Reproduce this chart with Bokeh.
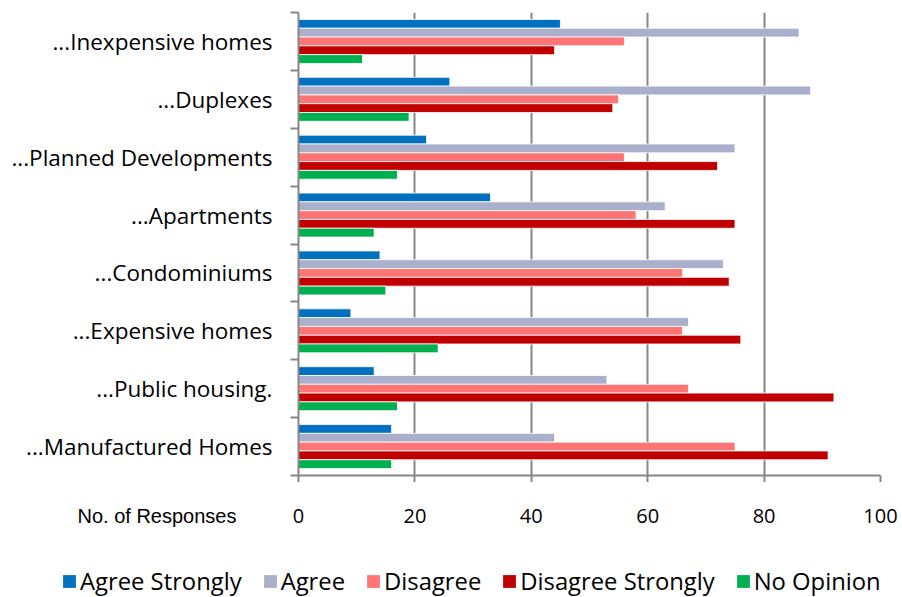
from bokeh.plotting import figure
from bokeh.models import Range1d, FixedTicker, ColumnDataSource, Legend, LegendItem, Label
from bokeh.transform import dodge
from bokeh.layouts import column
from bokeh.core.properties import value
from bokeh.embed import file_html
from bokeh.resources import INLINE

categories = ["...Inexpensive homes", "...Duplexes", "...Planned Developments",
              "...Apartments", "...Condominiums", "...Expensive homes",
              "...Public housing.", "...Manufactured Homes"]
agree_strongly = [45, 26, 22, 33, 14, 9, 13, 16]
agree = [86, 88, 75, 63, 73, 67, 53, 44]
disagree = [56, 55, 56, 58, 66, 66, 67, 75]
disagree_strongly = [44, 54, 72, 75, 74, 76, 92, 91]
no_opinion = [11, 19, 17, 13, 15, 24, 17, 16]
series_names = ["Agree Strongly", "Agree", "Disagree", "Disagree Strongly", "No Opinion"]
series_colors = ["#0070C0", "#AAB0CB", "#FF7575", "#C00000", "#00B050"]
x_ticks = [0, 20, 40, 60, 80, 100]
x_note = "No. of  Responses"

FONT = "Open Sans"
GRID = "#878787"
W, H = 902, 597
LEFT, RIGHT, TOP, MAIN_H = 298, 22, 12, 482
X0, X1 = 0, 100
n = len(categories)
centers = [n - 0.5 - i for i in range(n)]
bounds = [float(b) for b in range(n + 1)]
cols = ["s0", "s1", "s2", "s3", "s4"]

src = ColumnDataSource(dict(
    yc=centers, cat=categories,
    s0=agree_strongly, s1=agree, s2=disagree, s3=disagree_strongly, s4=no_opinion,
))

# ---------------- main chart ----------------
p = figure(width=W, height=MAIN_H, output_backend="svg", toolbar_location=None,
           x_range=Range1d(X0, X1), y_range=Range1d(0, n),
           min_border_left=LEFT, min_border_right=RIGHT, min_border_top=TOP,
           min_border_bottom=7)
p.outline_line_color = None
p.background_fill_color = "white"

bar_h = 0.152
for k in range(5):
    off = (2 - k) * bar_h
    p.hbar(y=dodge("yc", off, range=p.y_range), left=0, right=cols[k],
           height=bar_h, source=src, fill_color=series_colors[k],
           line_color="white", line_width=0.8)

p.yaxis.ticker = FixedTicker(ticks=centers, minor_ticks=bounds)
p.yaxis.major_label_overrides = {c: lab for c, lab in zip(centers, categories)}
p.yaxis.major_tick_line_color = None
p.yaxis.major_tick_out = 0
p.yaxis.major_tick_in = 0
p.yaxis.minor_tick_out = 8
p.yaxis.minor_tick_in = 0
p.yaxis.minor_tick_line_color = GRID
p.yaxis.minor_tick_line_width = 2
p.yaxis.axis_line_color = GRID
p.yaxis.axis_line_width = 2
p.yaxis.major_label_standoff = 18
p.yaxis.major_label_text_font = FONT
p.yaxis.major_label_text_font_size = "22.5px"
p.yaxis.major_label_text_color = "black"

# x axis: line + outward ticks only (its labels are drawn in the strip below)
p.xaxis.ticker = FixedTicker(ticks=[], minor_ticks=x_ticks)
p.xaxis.major_tick_line_color = None
p.xaxis.major_tick_out = 0
p.xaxis.major_tick_in = 0
p.xaxis.major_label_standoff = 0
p.xaxis.minor_tick_out = 7
p.xaxis.minor_tick_in = 0
p.xaxis.minor_tick_line_color = GRID
p.xaxis.minor_tick_line_width = 2
p.xaxis.axis_line_color = GRID
p.xaxis.axis_line_width = 2

p.ygrid.grid_line_color = None
p.xgrid.ticker = FixedTicker(ticks=x_ticks)
p.xgrid.grid_line_color = GRID
p.xgrid.grid_line_width = 2

# ---------------- bottom strip: tick labels, note, legend ----------------
bh = H - MAIN_H
ppu = (W - LEFT - RIGHT) / (X1 - X0)
p2 = figure(width=W, height=bh, output_backend="svg", toolbar_location=None,
            x_range=Range1d(X0 - LEFT / ppu, X1 + RIGHT / ppu), y_range=Range1d(0, bh),
            x_axis_location=None, y_axis_location=None, min_border=0)
if "frame_align" in p2.properties():
    p2.frame_align = False
    p.frame_align = False
p2.outline_line_color = None
p2.grid.visible = False
p2.extra_y_ranges = {"offstrip": Range1d(n + 1, n + 2)}

lab_y = bh - 33.5
p2.text(x=x_ticks, y=[lab_y] * len(x_ticks), text=[str(t) for t in x_ticks],
        text_align="center", text_baseline="middle", text_font=value(FONT),
        text_font_size="20px", text_color="black")

p2.add_layout(Label(x=X0 - 9.7, y=lab_y + 0.5, text=x_note, text_align="right",
                    text_baseline="middle", text_font="Liberation Sans",
                    text_font_size="20px", text_color="black"))

# legend entries use the same series (drawn off-strip, only their swatches show)
proxies = [p2.hbar(y="yc", left=0, right=cols[k], height=bar_h, source=src,
                   y_range_name="offstrip", fill_color=series_colors[k],
                   line_color=None) for k in range(5)]
legend = Legend(items=[LegendItem(label=nm, renderers=[r]) for nm, r in zip(series_names, proxies)],
                orientation="horizontal", location=(61, 0),
                glyph_width=16, glyph_height=16, label_standoff=3, spacing=20,
                padding=0, margin=0, border_line_color=None, background_fill_alpha=0,
                label_text_font=FONT, label_text_font_size="23.8px", label_text_color="black")
p2.add_layout(legend)

layout = column(p, p2, spacing=0)
open("out.html", "w").write(file_html(layout, INLINE))
